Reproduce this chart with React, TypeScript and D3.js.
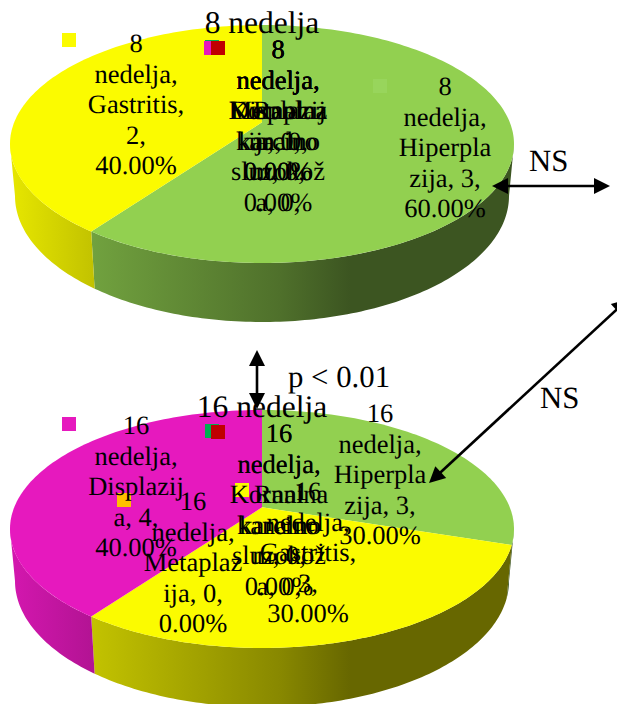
import React from "react";
import * as d3 from "d3";

const WIDTH = 617;
const HEIGHT = 704;
const FONT = "'Liberation Serif', 'Times New Roman', serif";

const categories = ["Hiperplazija", "Gastritis", "Displazija", "Metaplazija", "Rani karcinom", "Kornalna"];
const colors = ["#92D050", "#FBFB00", "#E619BE", "#FFC000", "#00B050", "#C00000"];
const week8Values = [3, 2, 0, 0, 0, 0];
const week16Values = [3, 3, 4, 0, 0, 0];

const pieLayouts = [
  { title: "8 nedelja", titleY: 33, values: week8Values, dy: 0 },
  { title: "16 nedelja", titleY: 417, values: week16Values, dy: 385 },
];

const cx = 262;
const rimRx = 252;
const rimRy = 119;
const rimCy = 144;
const baseRx = 247;
const baseRy = 126;
const baseCy = 196;
const perspective = 0.832;

const shadeXs = [10, 97, 280, 350, 514];
const shadeKs = [0.92, 0.77, 0.54, 0.41, 0.41];

const week8Labels = [
  { x: 136, y: 52, lines: ["8", "nedelja,", "Gastritis,", "2,", "40.00%"] },
  { x: 445, y: 95, lines: ["8", "nedelja,", "Hiperpla", "zija, 3,", "60.00%"] },
  { x: 278, y: 58, lines: ["8", "nedelja,", "Metaplaz", "ija, 0,", "0.00%"] },
  { x: 278, y: 58, lines: ["8", "nedelja,", "Displazij", "a, 0,", "0.00%"] },
  { x: 278, y: 58, lines: ["8", "nedelja,", "Rani", "karcino", "m, 0,", "0.00%"] },
  { x: 278, y: 58, lines: ["8", "nedelja,", "Kornalna", "kanalno", "sluzokož", "a, 0,"] },
];
const week16Labels = [
  { x: 136, y: 434, lines: ["16", "nedelja,", "Displazij", "a, 4,", "40.00%"] },
  { x: 193, y: 510, lines: ["16", "nedelja,", "Metaplaz", "ija, 0,", "0.00%"] },
  { x: 380, y: 422, lines: ["16", "nedelja,", "Hiperpla", "zija, 3,", "30.00%"] },
  { x: 308, y: 500, lines: ["16", "nedelja,", "Gastritis,", "3,", "30.00%"] },
  { x: 279, y: 442, lines: ["16", "nedelja,", "Rani", "karcino", "m, 0,", "0.00%"] },
  { x: 279, y: 442, lines: ["16", "nedelja,", "Kornalna", "kanalno", "sluzokož", "a, 0,"] },
];

const legendSquares = [
  { x: 62, y: 33, fill: "#FBFB00" },
  { x: 373, y: 79, fill: "#98D55C" },
  { x: 205, y: 40, fill: "#00B050" },
  { x: 204, y: 41, fill: "#E619BE" },
  { x: 211, y: 41, fill: "#C00000" },
  { x: 62, y: 417, fill: "#E619BE" },
  { x: 117, y: 493, fill: "#FFC000" },
  { x: 235, y: 483, fill: "#FBFB00" },
  { x: 205, y: 424, fill: "#00B050" },
  { x: 211, y: 425, fill: "#C00000" },
];

const notes = [
  { text: "NS", x: 529, y: 171 },
  { text: "NS", x: 540, y: 408 },
  { text: "p < 0.01", x: 288, y: 387 },
];

const arrows = [
  { x1: 492, y1: 186, x2: 610, y2: 186 },
  { x1: 257, y1: 350, x2: 257, y2: 409 },
  { x1: 429, y1: 483, x2: 628, y2: 299 },
];

const toTheta = (phi: number) =>
  2 * Math.atan2(perspective * Math.sin(phi / 2), Math.cos(phi / 2));

const rimPoint = (theta: number, dy: number): [number, number] => [
  cx + rimRx * Math.sin(theta),
  rimCy + dy - rimRy * Math.cos(theta),
];
const basePoint = (theta: number, dy: number): [number, number] => [
  cx + baseRx * Math.sin(theta),
  baseCy + dy - baseRy * Math.cos(theta),
];
const samples = (a: number, b: number) => {
  const n = Math.max(2, Math.ceil((b - a) / 0.02));
  return d3.range(n + 1).map((i) => a + ((b - a) * i) / n);
};
const line = d3.line<[number, number]>();

function slicesOf(values: number[]) {
  return d3
    .pie<number>()
    .sort(null)
    .startAngle(0)
    .endAngle(2 * Math.PI)(values)
    .map((d, i) => ({ i, value: d.value, a: toTheta(d.startAngle), b: toTheta(d.endAngle) }))
    .filter((d) => d.value > 0);
}

function shadeStops(color: string) {
  const x = d3.scaleLinear().domain([shadeXs[0], shadeXs[shadeXs.length - 1]]).range([0, 100]);
  return shadeXs.map((sx, k) => {
    const c = d3.rgb(color);
    return {
      offset: `${x(sx)}%`,
      color: d3.rgb(c.r * shadeKs[k], c.g * shadeKs[k], c.b * shadeKs[k]).formatHex(),
    };
  });
}

function Pie({ values, dy, id }: { values: number[]; dy: number; id: string }) {
  const slices = slicesOf(values);
  const apexY = rimCy + dy - (rimRy * (1 - perspective ** 2)) / (1 + perspective ** 2);
  return (
    <g>
      <defs>
        {slices.map((s) => (
          <linearGradient
            key={s.i}
            id={`${id}-${s.i}`}
            gradientUnits="userSpaceOnUse"
            x1={shadeXs[0]}
            x2={shadeXs[shadeXs.length - 1]}
            y1={0}
            y2={0}
          >
            {shadeStops(colors[s.i]).map((st) => (
              <stop key={st.offset} offset={st.offset} stopColor={st.color} />
            ))}
          </linearGradient>
        ))}
      </defs>
      {slices.map((s) => {
        const a = Math.max(s.a, Math.PI / 2);
        const b = Math.min(s.b, (3 * Math.PI) / 2);
        if (b <= a) return null;
        const ts = samples(a, b);
        const pts = [...ts.map((t) => rimPoint(t, dy)), ...ts.slice().reverse().map((t) => basePoint(t, dy))];
        return <path key={s.i} d={line(pts) + "Z"} fill={`url(#${id}-${s.i})`} />;
      })}
      {slices.map((s) => {
        const pts: [number, number][] = [[cx, apexY], ...samples(s.a, s.b).map((t) => rimPoint(t, dy))];
        return <path key={s.i} d={line(pts) + "Z"} fill={colors[s.i]} />;
      })}
    </g>
  );
}

function Label({ x, y, lines }: { x: number; y: number; lines: string[] }) {
  const lineY = d3.scaleLinear().domain([0, 1]).range([y, y + 30.5]);
  return (
    <text textAnchor="middle" fontSize={26.5} fill="#000">
      {lines.map((l, i) => (
        <tspan key={i} x={x} y={lineY(i)}>
          {l}
        </tspan>
      ))}
    </text>
  );
}

function Arrow({ x1, y1, x2, y2 }: { x1: number; y1: number; x2: number; y2: number }) {
  const len = Math.hypot(x2 - x1, y2 - y1);
  const ux = (x2 - x1) / len;
  const uy = (y2 - y1) / len;
  const head = 16;
  const half = 8;
  const tri = (tx: number, ty: number, dx: number, dy: number): [number, number][] => [
    [tx, ty],
    [tx - dx * head - dy * half, ty - dy * head + dx * half],
    [tx - dx * head + dy * half, ty - dy * head - dx * half],
  ];
  return (
    <g>
      <line
        x1={x1 + ux * 10}
        y1={y1 + uy * 10}
        x2={x2 - ux * 10}
        y2={y2 - uy * 10}
        stroke="#000"
        strokeWidth={2.6}
      />
      <path d={line(tri(x2, y2, ux, uy)) + "Z"} fill="#000" />
      <path d={line(tri(x1, y1, -ux, -uy)) + "Z"} fill="#000" />
    </g>
  );
}

export default function App() {
  return (
    <svg
      width={WIDTH}
      height={HEIGHT}
      viewBox={`0 0 ${WIDTH} ${HEIGHT}`}
      style={{ position: "absolute", left: 0, top: 0, background: "#fff" }}
      fontFamily={FONT}
      textRendering="geometricPrecision"
    >
      <title>{categories.join(", ")}</title>
      {pieLayouts.map((p, i) => (
        <Pie key={i} values={p.values} dy={p.dy} id={`pie${i}`} />
      ))}
      {legendSquares.map((s, i) => (
        <rect key={i} x={s.x} y={s.y} width={14} height={14} fill={s.fill} />
      ))}
      {[...week8Labels, ...week16Labels].map((l, i) => (
        <Label key={i} {...l} />
      ))}
      {pieLayouts.map((p) => (
        <text key={p.title} x={cx} y={p.titleY} textAnchor="middle" fontSize={31.5} fill="#000">
          {p.title}
        </text>
      ))}
      {notes.map((n, i) => (
        <text key={i} x={n.x} y={n.y} fontSize={30.8} fill="#000">
          {n.text}
        </text>
      ))}
      {arrows.map((a, i) => (
        <Arrow key={i} {...a} />
      ))}
    </svg>
  );
}
